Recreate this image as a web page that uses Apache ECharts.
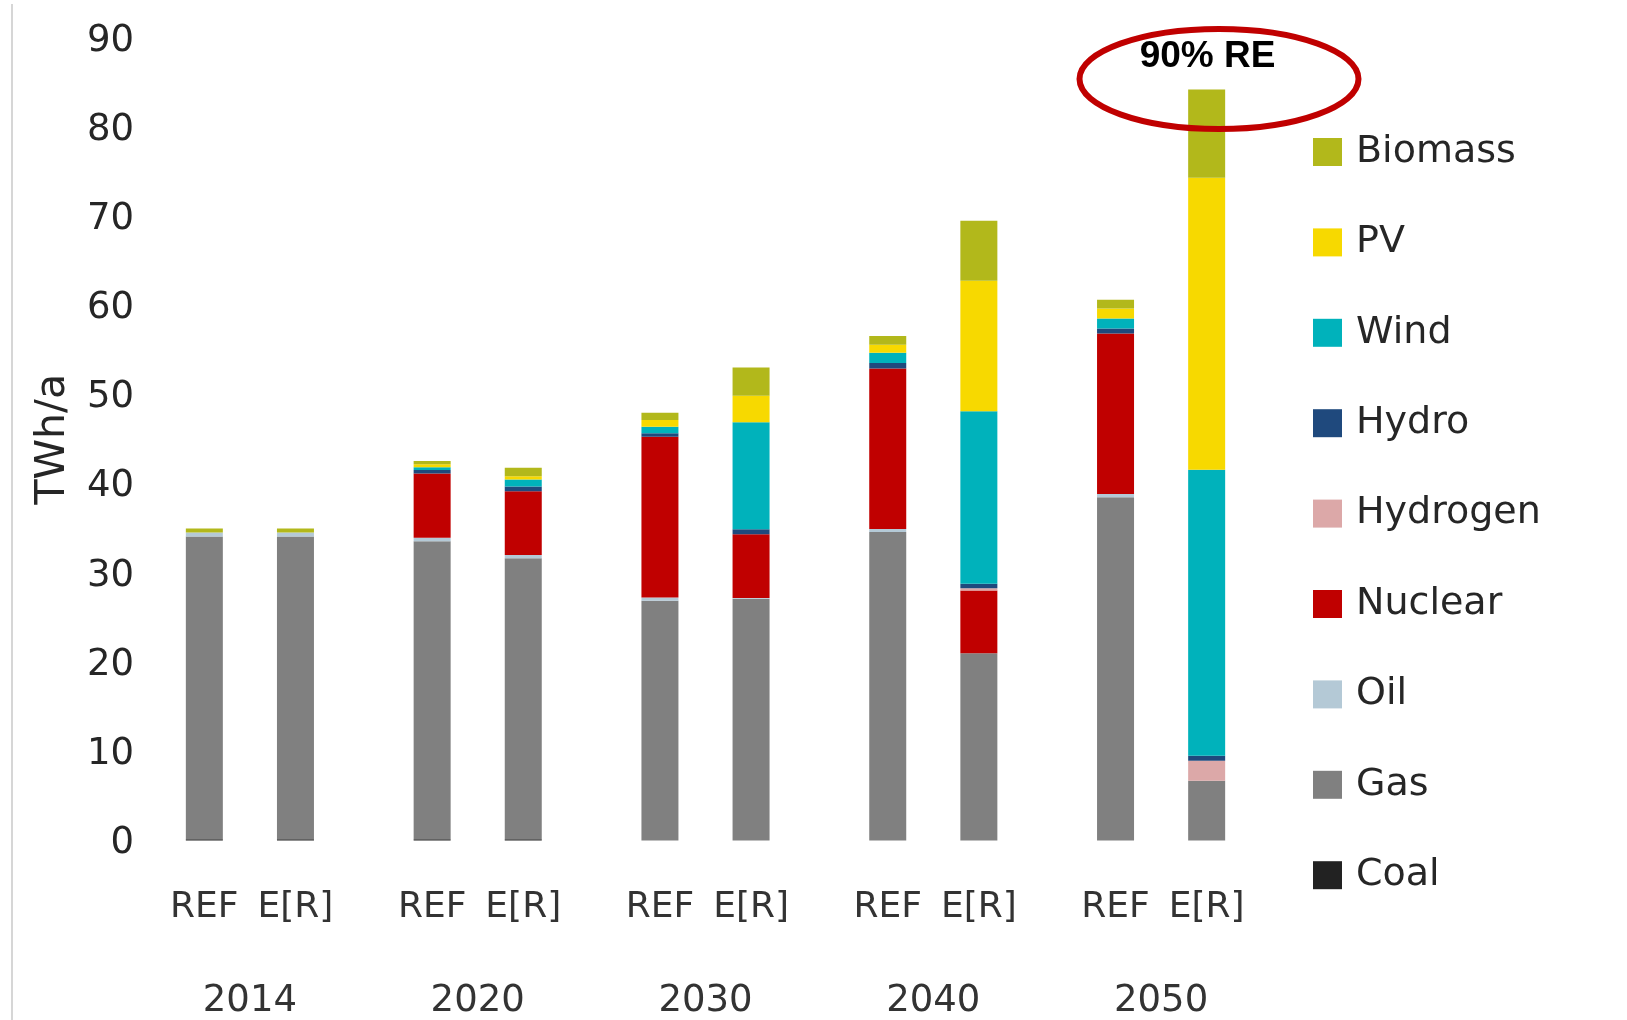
<!DOCTYPE html>
<html>
<head>
<meta charset="utf-8">
<script src="https://cdn.jsdelivr.net/npm/echarts@6/dist/echarts.min.js"></script>
<style>
  html, body { margin: 0; padding: 0; background: #fff; }
  #chart { width: 1627px; height: 1020px; }
</style>
</head>
<body>
<div id="chart"></div>
<script>
var years = ['2014', '2020', '2030', '2040', '2050'];
var scenarios = ['REF', 'E[R]'];

// values per bar: REF 2014, E[R] 2014, REF 2020, E[R] 2020, ...
var coal     = [0.15, 0.15, 0.15, 0.15, 0, 0, 0, 0, 0, 0];
var gas      = [33.95, 33.95, 33.4, 31.5, 26.9, 27.1, 34.6, 21.0, 38.5, 6.7];
var oil      = [0.45, 0.45, 0.4, 0.37, 0.34, 0.1, 0.34, 0, 0.37, 0];
var nuclear  = [0, 0, 7.2, 7.15, 18.05, 7.15, 18.0, 7.05, 18.0, 0];
var hydrogen = [0, 0, 0, 0, 0, 0, 0, 0.25, 0, 2.25];
var hydro    = [0, 0, 0.4, 0.52, 0.37, 0.56, 0.6, 0.5, 0.56, 0.56];
var wind     = [0, 0, 0.3, 0.79, 0.75, 12.0, 1.16, 19.33, 1.12, 32.06];
var pv       = [0, 0, 0.35, 0.37, 0.75, 2.96, 0.9, 14.64, 1.12, 32.75];
var biomass  = [0.45, 0.45, 0.35, 0.94, 0.82, 3.18, 0.97, 6.74, 0.97, 9.9];

var seriesNames = ['Coal', 'Gas', 'Oil', 'Nuclear', 'Hydrogen', 'Hydro', 'Wind', 'PV', 'Biomass'];
var seriesData = [coal, gas, oil, nuclear, hydrogen, hydro, wind, pv, biomass];
var seriesColors = ['#222222', '#808080', '#b4c9d6', '#c00000', '#dca8a8', '#1f497d', '#00b2bb', '#f7d900', '#b2b81b'];
var legendOrder = ['Biomass', 'PV', 'Wind', 'Hydro', 'Hydrogen', 'Nuclear', 'Oil', 'Gas', 'Coal'];

var FONT = 'DejaVu Sans';

// 5 slots per year: gap, REF, gap, E[R], gap
var slots = [];
var slotLabels = [];
years.forEach(function (y) {
  slots.push(y + '_a', y + ' REF', y + '_b', y + ' E[R]', y + '_c');
  slotLabels.push('', scenarios[0], '', scenarios[1], '');
});

function expand(arr) {
  var out = [];
  for (var i = 0; i < years.length; i++) {
    out.push('-', arr[i * 2], '-', arr[i * 2 + 1], '-');
  }
  return out;
}

var series = seriesNames.map(function (name, k) {
  return {
    name: name,
    type: 'bar',
    stack: 'total',
    barWidth: 37,
    xAxisIndex: 0,
    itemStyle: { color: seriesColors[k] },
    emphasis: { disabled: true },
    data: expand(seriesData[k])
  };
});

var chart = echarts.init(document.getElementById('chart'));

var option = {
  animation: false,
  backgroundColor: '#ffffff',
  grid: { left: 136, right: 352, top: 38, bottom: 179.5 },
  legend: {
    data: legendOrder,
    orient: 'vertical',
    left: 1313,
    top: 133,
    padding: 0,
    itemWidth: 29,
    itemHeight: 28,
    itemGap: 52.4,
    icon: 'rect',
    selectedMode: false,
    textStyle: { fontFamily: FONT, fontSize: 38, color: '#262626', padding: [0, 0, 0, 9] }
  },
  xAxis: [{
    type: 'category',
    data: slots,
    axisLine: { show: false },
    axisTick: { show: false },
    axisLabel: {
      interval: 0,
      margin: 49,
      fontFamily: FONT,
      fontSize: 36,
      color: '#333333',
      formatter: function (v, i) { return slotLabels[i]; }
    }
  }, {
    type: 'category',
    position: 'bottom',
    data: years,
    axisLine: { show: false },
    axisTick: { show: false },
    axisLabel: {
      interval: 0,
      margin: 142,
      fontFamily: FONT,
      fontSize: 37,
      color: '#333333'
    }
  }],
  yAxis: {
    type: 'value',
    min: 0,
    max: 90,
    interval: 10,
    name: 'TWh/a',
    nameLocation: 'middle',
    nameRotate: 90,
    nameGap: 62,
    nameTextStyle: { fontFamily: FONT, fontSize: 41, color: '#262626' },
    axisLine: { show: false },
    axisTick: { show: false },
    splitLine: { show: false },
    axisLabel: {
      margin: 2,
      verticalAlign: 'top',
      lineHeight: 6,
      fontFamily: FONT,
      fontSize: 37,
      color: '#262626'
    }
  },
  graphic: [
    {
      type: 'line',
      shape: { x1: 12, y1: 4, x2: 12, y2: 1020 },
      style: { stroke: '#c8c8c8', lineWidth: 1.5 }
    },
    {
      type: 'ellipse',
      z: 100,
      shape: { cx: 1219, cy: 79, rx: 139.5, ry: 50 },
      style: { fill: null, stroke: '#c00000', lineWidth: 6 }
    },
    {
      type: 'text',
      z: 101,
      x: 1207.5,
      y: 57,
      style: {
        text: '90% RE',
        fontFamily: 'Liberation Sans',
        fontWeight: 'bold',
        fontSize: 37,
        fill: '#000000',
        align: 'center',
        verticalAlign: 'middle'
      }
    }
  ],
  series: series
};

chart.setOption(option);
</script>
</body>
</html>
